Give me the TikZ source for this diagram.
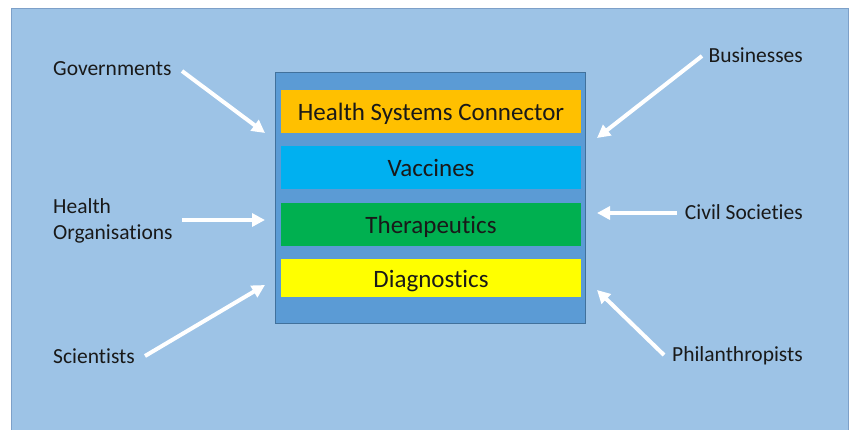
\documentclass[tikz,border=0pt]{standalone}
\usepackage{fontspec}
\setmainfont{Carlito}[Ligatures=NoCommon]
\usetikzlibrary{arrows.meta}
\definecolor{bgblue}{RGB}{157,195,230}
\definecolor{bgedge}{RGB}{125,160,200}
\definecolor{midblue}{RGB}{91,155,213}
\definecolor{midedge}{RGB}{65,113,156}
\definecolor{hsorange}{RGB}{255,192,0}
\definecolor{vacblue}{RGB}{0,176,240}
\definecolor{thgreen}{RGB}{0,176,80}
\definecolor{dgyellow}{RGB}{255,255,0}
\tikzset{
  bar/.style={minimum width=300pt, minimum height=43pt, inner sep=0pt, text height=21pt, text depth=3pt, font=\fontsize{25}{30}\selectfont, text=black!90},
  side/.style={inner sep=0pt, font=\fontsize{21.5}{26}\selectfont, text=black!90},
  warrow/.style={draw=white, line width=4pt, -{Triangle[length=13pt,width=13pt]}}
}
\begin{document}
\begin{tikzpicture}[x=1pt,y=-1pt]
\useasboundingbox (0,0) rectangle (851,429);
\fill[white] (0,0) rectangle (851,429);
\filldraw[fill=bgblue, draw=bgedge, line width=0.8pt] (11,8) rectangle (848,432);
\node[draw=midedge, fill=midblue, line width=0.8pt, minimum width=310pt, minimum height=251pt, inner sep=0pt] (core) at (430,197.5) {};
\node[bar, fill=hsorange] (hsc) at (431,111) {Health Systems Connector};
\node[bar, fill=vacblue] (vac) at (431,167.5) {Vaccines};
\node[bar, fill=thgreen] (ther) at (431,224.5) {Therapeutics};
\node[bar, fill=dgyellow, minimum height=38pt] (diag) at (431,278) {Diagnostics};
\node[side, anchor=west] (gov) at (53,69) {Governments};
\node[side, anchor=west, align=left] (ho) at (53,221) {Health\\[0pt]Organisations};
\node[side, anchor=west] (sci) at (53,356) {Scientists};
\node[side, anchor=east] (bus) at (803,55) {Businesses};
\node[side, anchor=east] (civ) at (803,212) {Civil Societies};
\node[side, anchor=east] (phil) at (803,356) {Philanthropists};
\coordinate (govS) at (182,71);
\coordinate (govE) at (265,133);
\coordinate (hoS) at (182,220);
\coordinate (hoE) at (265,220);
\coordinate (sciS) at (145,356);
\coordinate (sciE) at (265,285);
\coordinate (busS) at (702,56);
\coordinate (busE) at (597,138);
\coordinate (civS) at (677,213);
\coordinate (civE) at (597,213);
\coordinate (philS) at (664,355);
\coordinate (philE) at (597,290);
\draw[warrow] (govS) -- (govE);
\draw[warrow] (hoS) -- (hoE);
\draw[warrow] (sciS) -- (sciE);
\draw[warrow] (busS) -- (busE);
\draw[warrow] (civS) -- (civE);
\draw[warrow] (philS) -- (philE);
\end{tikzpicture}
\end{document}
